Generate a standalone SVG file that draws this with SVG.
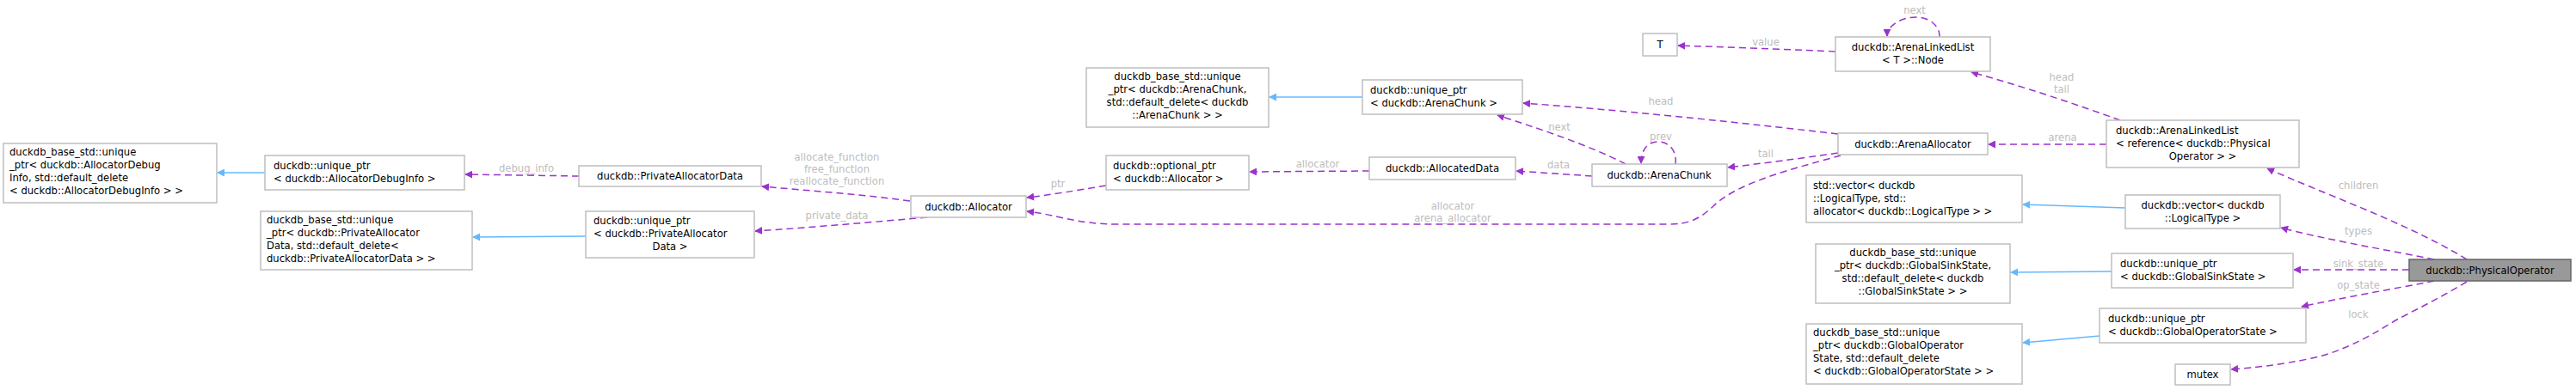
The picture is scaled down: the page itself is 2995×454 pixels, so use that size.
<svg xmlns="http://www.w3.org/2000/svg" width="2995" height="454" viewBox="0 0 2995 454">
<defs>
<style>
text{font-family:"DejaVu Sans",sans-serif;font-size:11.6px;fill:#000}
.n rect{fill:#fff;stroke:#bfbfbf;stroke-width:1.5}
.g rect{fill:#999;stroke:#666;stroke-width:1.5}
.c{text-anchor:middle}
.e path{fill:none;stroke:#9a32cd;stroke-width:1.5;stroke-dasharray:8,5;marker-end:url(#mp)}
.e path.b{stroke:#63b8ff;stroke-dasharray:none;marker-end:url(#mb)}
.lbl text{fill:#bdbdbd;text-anchor:middle}
</style>
<marker id="mp" viewBox="0 0 10 10" refX="9" refY="5" markerWidth="9" markerHeight="9" orient="auto" markerUnits="userSpaceOnUse"><path d="M0,0L10,5L0,10z" fill="#9a32cd"/></marker>
<marker id="mb" viewBox="0 0 10 10" refX="9" refY="5" markerWidth="9" markerHeight="9" orient="auto" markerUnits="userSpaceOnUse"><path d="M0,0L10,5L0,10z" fill="#63b8ff"/></marker>
</defs>
<rect width="2995" height="454" fill="#fff"/>
<g class="e" id="connectors">
<path class="b" d="M308,201L253,201"/>
<path d="M673,205L541,203"/>
<path class="b" d="M681,275L550,276"/>
<path d="M1058,234C1000,226 940,222 886,217"/>
<path d="M1078,253C1020,258 940,265 878,269"/>
<path d="M1286,216C1250,222 1220,227 1194,230"/>
<path d="M1592,199L1453,200"/>
<path d="M1851,205L1763,199"/>
<path d="M1890,191C1850,170 1790,150 1741,134"/>
<path d="M1948,191C1950,175 1940,165 1928,165C1915,165 1908,175 1908,190"/>
<path d="M2137,156C2000,140 1880,128 1771,120"/>
<path d="M2137,178C2090,185 2050,190 2009,195"/>
<path d="M2140,181C2090,195 2020,212 1992,240C1975,256 1962,261 1940,261L1300,261C1250,261 1230,250 1194,246"/>
<path class="b" d="M1584,113L1476,113"/>
<path d="M2134,60C2070,57 2010,55 1951,53"/>
<path d="M2255,43C2256,32 2245,20 2228,20C2210,20 2194,30 2194,42"/>
<path d="M2465,140C2410,120 2350,100 2292,84"/>
<path d="M2449,168L2312,168"/>
<path d="M2868,302C2800,260 2700,225 2636,196"/>
<path d="M2830,302C2770,290 2700,278 2652,265"/>
<path class="b" d="M2471,242L2352,238"/>
<path d="M2801,314L2667,314"/>
<path class="b" d="M2455,316L2338,317"/>
<path d="M2830,327C2780,337 2720,347 2676,357"/>
<path class="b" d="M2441,391L2352,399"/>
<path d="M2868,328C2840,345 2810,360 2785,373C2750,395 2720,410 2688,417C2650,425 2620,428 2594,430"/>
</g>
<g class="lbl">
<text x="612" y="200">debug_info</text>
<text x="973" y="187">allocate_function</text>
<text x="973" y="201">free_function</text>
<text x="973" y="215">reallocate_function</text>
<text x="973" y="255">private_data</text>
<text x="1230" y="218">ptr</text>
<text x="1532" y="195">allocator</text>
<text x="1812" y="196">data</text>
<text x="1813" y="152">next</text>
<text x="1931" y="163">prev</text>
<text x="1931" y="122">head</text>
<text x="2053" y="183">tail</text>
<text x="1689" y="244">allocator</text>
<text x="1689" y="258">arena_allocator</text>
<text x="2053" y="53">value</text>
<text x="2226" y="16">next</text>
<text x="2397" y="94">head</text>
<text x="2397" y="108">tail</text>
<text x="2398" y="164">arena</text>
<text x="2742" y="220">children</text>
<text x="2742" y="273">types</text>
<text x="2742" y="311">sink_state</text>
<text x="2742" y="336">op_state</text>
<text x="2742" y="370">lock</text>
</g>
<g class="n" id="n_dbgbase"><rect x="4" y="167" width="248" height="69"/><text x="11" y="181">duckdb_base_std::unique</text><text x="11" y="196">_ptr&lt; duckdb::AllocatorDebug</text><text x="11" y="211">Info, std::default_delete</text><text x="11" y="226">&lt; duckdb::AllocatorDebugInfo &gt; &gt;</text></g>
<g class="n" id="n_dbgptr"><rect x="308" y="181" width="232" height="40"/><text x="318" y="197">duckdb::unique_ptr</text><text x="318" y="212">&lt; duckdb::AllocatorDebugInfo &gt;</text></g>
<g class="n" id="n_pad"><rect x="673" y="193" width="212" height="24"/><text class="c" x="779" y="209">duckdb::PrivateAllocatorData</text></g>
<g class="n" id="n_padbase"><rect x="303" y="246" width="246" height="68"/><text x="310" y="260">duckdb_base_std::unique</text><text x="310" y="275">_ptr&lt; duckdb::PrivateAllocator</text><text x="310" y="290">Data, std::default_delete&lt;</text><text x="310" y="305"> duckdb::PrivateAllocatorData &gt; &gt;</text></g>
<g class="n" id="n_padptr"><rect x="681" y="246" width="196" height="54"/><text x="690" y="261">duckdb::unique_ptr</text><text x="690" y="276">&lt; duckdb::PrivateAllocator</text><text class="c" x="779" y="291">Data &gt;</text></g>
<g class="n" id="n_alloc"><rect x="1059" y="228" width="134" height="25"/><text class="c" x="1126" y="245">duckdb::Allocator</text></g>
<g class="n" id="n_optptr"><rect x="1286" y="181" width="166" height="40"/><text x="1294" y="197">duckdb::optional_ptr</text><text x="1294" y="212">&lt; duckdb::Allocator &gt;</text></g>
<g class="n" id="n_acbase"><rect x="1263" y="79" width="212" height="69"/><text class="c" x="1369" y="93">duckdb_base_std::unique</text><text class="c" x="1369" y="108">_ptr&lt; duckdb::ArenaChunk,</text><text class="c" x="1369" y="123">std::default_delete&lt; duckdb</text><text class="c" x="1369" y="138">::ArenaChunk &gt; &gt;</text></g>
<g class="n" id="n_acptr"><rect x="1584" y="93" width="186" height="40"/><text x="1593" y="109">duckdb::unique_ptr</text><text x="1593" y="124">&lt; duckdb::ArenaChunk &gt;</text></g>
<g class="n" id="n_adata"><rect x="1592" y="183" width="170" height="26"/><text class="c" x="1677" y="200">duckdb::AllocatedData</text></g>
<g class="n" id="n_chunk"><rect x="1851" y="191" width="157" height="26"/><text class="c" x="1929" y="208">duckdb::ArenaChunk</text></g>
<g class="n" id="n_T"><rect x="1910" y="39" width="40" height="26"/><text class="c" x="1930" y="56">T</text></g>
<g class="n" id="n_node"><rect x="2134" y="43" width="180" height="40"/><text class="c" x="2224" y="59">duckdb::ArenaLinkedList</text><text class="c" x="2224" y="74">&lt; T &gt;::Node</text></g>
<g class="n" id="n_arena"><rect x="2137" y="155" width="174" height="25"/><text class="c" x="2224" y="172">duckdb::ArenaAllocator</text></g>
<g class="n" id="n_allref"><rect x="2449" y="140" width="224" height="55"/><text x="2460" y="156">duckdb::ArenaLinkedList</text><text x="2460" y="171">&lt; reference&lt; duckdb::Physical</text><text class="c" x="2561" y="186">Operator &gt; &gt;</text></g>
<g class="n" id="n_stdvec"><rect x="2100" y="204" width="251" height="55"/><text x="2108" y="220">std::vector&lt; duckdb</text><text x="2108" y="235">::LogicalType, std::</text><text x="2108" y="250">allocator&lt; duckdb::LogicalType &gt; &gt;</text></g>
<g class="n" id="n_vec"><rect x="2471" y="227" width="180" height="39"/><text class="c" x="2561" y="243">duckdb::vector&lt; duckdb</text><text class="c" x="2561" y="258">::LogicalType &gt;</text></g>
<g class="n" id="n_gssbase"><rect x="2111" y="284" width="226" height="69"/><text class="c" x="2224" y="298">duckdb_base_std::unique</text><text class="c" x="2224" y="313">_ptr&lt; duckdb::GlobalSinkState,</text><text class="c" x="2224" y="328">std::default_delete&lt; duckdb</text><text class="c" x="2224" y="343">::GlobalSinkState &gt; &gt;</text></g>
<g class="n" id="n_gssptr"><rect x="2455" y="295" width="211" height="40"/><text x="2465" y="311">duckdb::unique_ptr</text><text x="2465" y="326">&lt; duckdb::GlobalSinkState &gt;</text></g>
<g class="g" id="n_po"><rect x="2801" y="302" width="188" height="25"/><text class="c" x="2895" y="319">duckdb::PhysicalOperator</text></g>
<g class="n" id="n_gosptr"><rect x="2441" y="359" width="240" height="40"/><text x="2451" y="375">duckdb::unique_ptr</text><text x="2451" y="390">&lt; duckdb::GlobalOperatorState &gt;</text></g>
<g class="n" id="n_gosbase"><rect x="2100" y="377" width="251" height="70"/><text x="2108" y="391">duckdb_base_std::unique</text><text x="2108" y="406">_ptr&lt; duckdb::GlobalOperator</text><text x="2108" y="421">State, std::default_delete</text><text x="2108" y="436">&lt; duckdb::GlobalOperatorState &gt; &gt;</text></g>
<g class="n" id="n_mutex"><rect x="2529" y="424" width="64" height="24"/><text class="c" x="2561" y="440">mutex</text></g>
</svg>
